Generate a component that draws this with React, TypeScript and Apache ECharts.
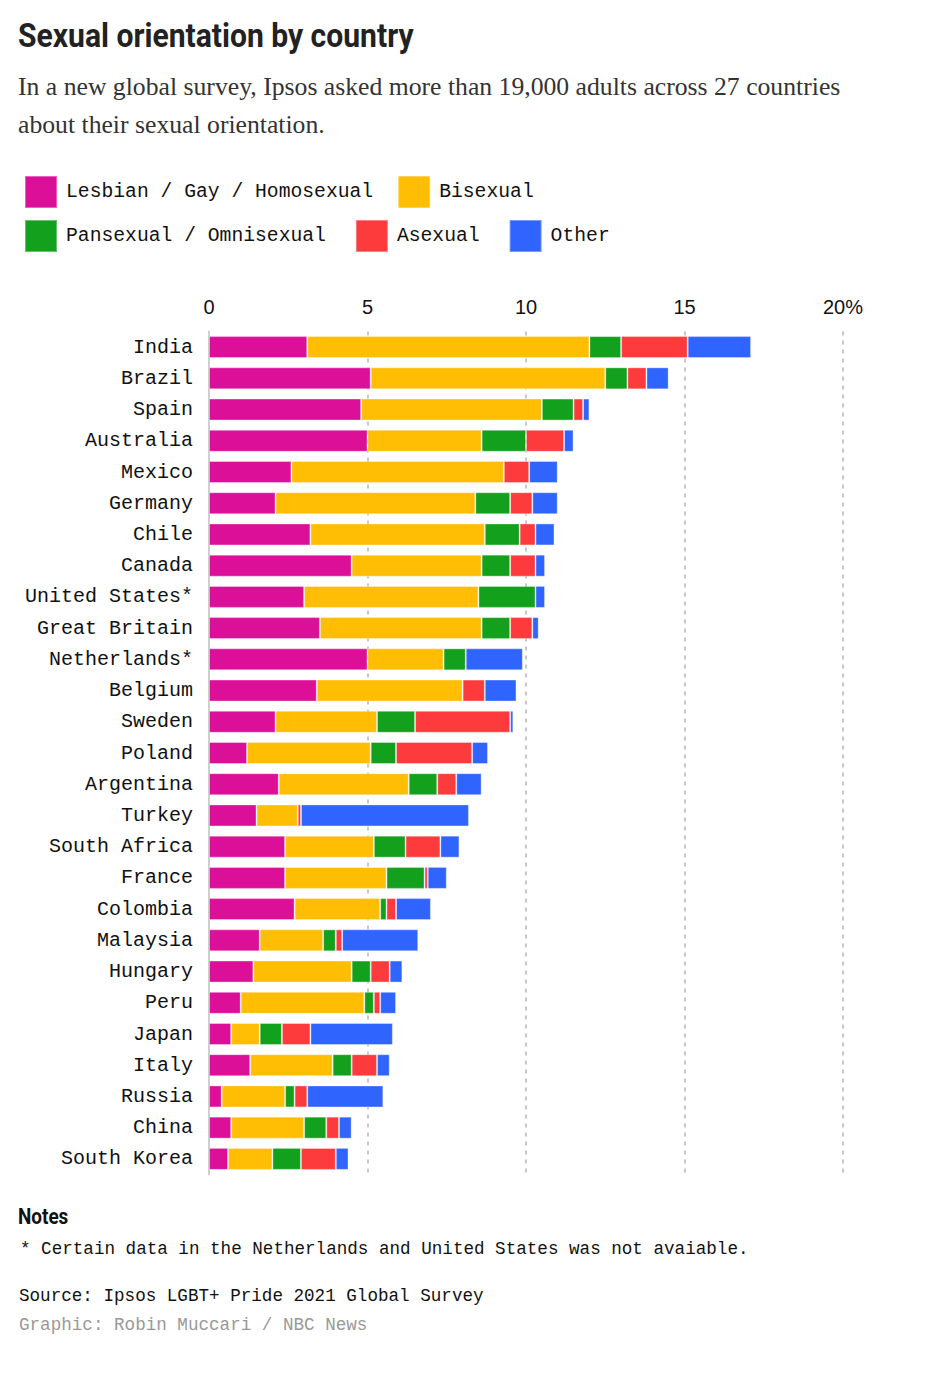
import React, { useRef, useEffect } from 'react';
import * as echarts from 'echarts';

const countries = [
  'India', 'Brazil', 'Spain', 'Australia', 'Mexico', 'Germany', 'Chile', 'Canada',
  'United States*', 'Great Britain', 'Netherlands*', 'Belgium', 'Sweden', 'Poland',
  'Argentina', 'Turkey', 'South Africa', 'France', 'Colombia', 'Malaysia', 'Hungary',
  'Peru', 'Japan', 'Italy', 'Russia', 'China', 'South Korea',
];

// percentages
const lesbianGay = [3.1, 5.1, 4.8, 5.0, 2.6, 2.1, 3.2, 4.5, 3.0, 3.5, 5.0, 3.4, 2.1, 1.2, 2.2, 1.5, 2.4, 2.4, 2.7, 1.6, 1.4, 1.0, 0.7, 1.3, 0.4, 0.7, 0.6];
const bisexual = [8.9, 7.4, 5.7, 3.6, 6.7, 6.3, 5.5, 4.1, 5.5, 5.1, 2.4, 4.6, 3.2, 3.9, 4.1, 1.3, 2.8, 3.2, 2.7, 2.0, 3.1, 3.9, 0.9, 2.6, 2.0, 2.3, 1.4];
const pansexual = [1.0, 0.7, 1.0, 1.4, 0, 1.1, 1.1, 0.9, 1.8, 0.9, 0.7, 0, 1.2, 0.8, 0.9, 0, 1.0, 1.2, 0.2, 0.4, 0.6, 0.3, 0.7, 0.6, 0.3, 0.7, 0.9];
const asexual = [2.1, 0.6, 0.3, 1.2, 0.8, 0.7, 0.5, 0.8, 0, 0.7, 0, 0.7, 3.0, 2.4, 0.6, 0.1, 1.1, 0.1, 0.3, 0.2, 0.6, 0.2, 0.9, 0.8, 0.4, 0.4, 1.1];
const other = [2.0, 0.7, 0.2, 0.3, 0.9, 0.8, 0.6, 0.3, 0.3, 0.2, 1.8, 1.0, 0.1, 0.5, 0.8, 5.3, 0.6, 0.6, 1.1, 2.4, 0.4, 0.5, 2.6, 0.4, 2.4, 0.4, 0.4];

const seriesNames = ['Lesbian / Gay / Homosexual', 'Bisexual', 'Pansexual / Omnisexual', 'Asexual', 'Other'];
const seriesColors = ['#DB0F98', '#FFBD03', '#13A11D', '#FD3A3C', '#3064FF'];
const seriesData = [lesbianGay, bisexual, pansexual, asexual, other];

const xTicks = [0, 5, 10, 15, 20];

const MONO = '"Liberation Mono", "DejaVu Sans Mono", monospace';
const HEAD = 'Roboto, "Liberation Sans", sans-serif';

export default function App() {
  const chartRef = useRef<HTMLDivElement>(null);

  useEffect(() => {
    if (!chartRef.current) return;
    document.body.style.margin = '0';
    const chart = echarts.init(chartRef.current, null, { renderer: 'svg' });

    const legendText = {
      fontFamily: MONO,
      fontSize: 19.7,
      color: '#111',
      padding: [0, 0, 0, 4],
    };

    const option: echarts.EChartsOption = {
      animation: false,
      backgroundColor: '#fff',
      title: [
        {
          text: 'In a new global survey, Ipsos asked more than 19,000 adults across 27 countries\nabout their sexual orientation.',
          left: 18,
          top: 67,
          padding: 0,
          textStyle: {
            fontFamily: '"Liberation Serif", serif',
            fontWeight: 'normal',
            fontSize: 25.7,
            lineHeight: 38,
            color: '#333',
          },
        },
        {
          text: '* Certain data in the Netherlands and United States was not avaiable.',
          left: 20,
          top: 1240,
          padding: 0,
          textStyle: { fontFamily: MONO, fontWeight: 'normal', fontSize: 17.6, color: '#111' },
        },
        {
          text: 'Source: Ipsos LGBT+ Pride 2021 Global Survey',
          left: 19,
          top: 1287,
          padding: 0,
          textStyle: { fontFamily: MONO, fontWeight: 'normal', fontSize: 17.6, color: '#111' },
        },
        {
          text: 'Graphic: Robin Muccari / NBC News',
          left: 19,
          top: 1316,
          padding: 0,
          textStyle: { fontFamily: MONO, fontWeight: 'normal', fontSize: 17.6, color: '#999' },
        },
      ],
      graphic: [
        {
          type: 'text',
          x: 18,
          y: 18,
          scaleX: 0.885,
          style: {
            text: 'Sexual orientation by country',
            font: `bold 34px ${HEAD}`,
            fill: '#222',
          },
        },
        {
          type: 'text',
          x: 18,
          y: 1205,
          scaleX: 0.86,
          style: {
            text: 'Notes',
            font: `bold 22px ${HEAD}`,
            fill: '#111',
          },
        },
      ],
      legend: [
        {
          data: seriesNames.slice(0, 2),
          left: 24,
          top: 175,
          padding: 0,
          itemWidth: 32,
          itemHeight: 32,
          itemGap: 24,
          icon: 'rect',
          selectedMode: false,
          textStyle: legendText,
        },
        {
          data: seriesNames.slice(2),
          left: 24,
          top: 219,
          padding: 0,
          itemWidth: 32,
          itemHeight: 32,
          itemGap: 29,
          icon: 'rect',
          selectedMode: false,
          textStyle: legendText,
        },
      ],
      grid: {
        left: 209,
        right: 97,
        top: 331.5,
        height: 843,
      },
      xAxis: {
        type: 'value',
        position: 'top',
        min: 0,
        max: 20,
        interval: 5,
        axisLine: { show: false },
        axisTick: { show: false },
        axisLabel: {
          margin: 15,
          fontFamily: '"Liberation Sans", Arial, sans-serif',
          fontSize: 20,
          color: '#111',
          formatter: (v: number) => (v === xTicks[xTicks.length - 1] ? `${v}%` : `${v}`),
        },
        splitLine: {
          show: true,
          lineStyle: { color: '#c8c8c8', width: 2, type: [4, 5] },
        },
      },
      yAxis: {
        type: 'category',
        inverse: true,
        data: countries,
        axisLine: { show: true, lineStyle: { color: '#cfcfcf', width: 2 } },
        axisTick: { show: false },
        axisLabel: {
          margin: 16,
          fontFamily: MONO,
          fontSize: 20,
          color: '#111',
        },
      },
      series: seriesNames.map((name, i) => ({
        name,
        type: 'bar' as const,
        stack: 'total',
        barWidth: 22,
        data: seriesData[i],
        itemStyle: {
          color: seriesColors[i],
          borderColor: 'rgba(255,255,255,0.35)',
          borderWidth: 1,
        },
        emphasis: { disabled: true },
      })),
    };

    chart.setOption(option);

    const handleResize = () => chart.resize();
    window.addEventListener('resize', handleResize);
    return () => {
      window.removeEventListener('resize', handleResize);
      chart.dispose();
    };
  }, []);

  return (
    <div
      ref={chartRef}
      style={{ position: 'absolute', left: 0, top: 0, width: 940, height: 1388 }}
    />
  );
}
